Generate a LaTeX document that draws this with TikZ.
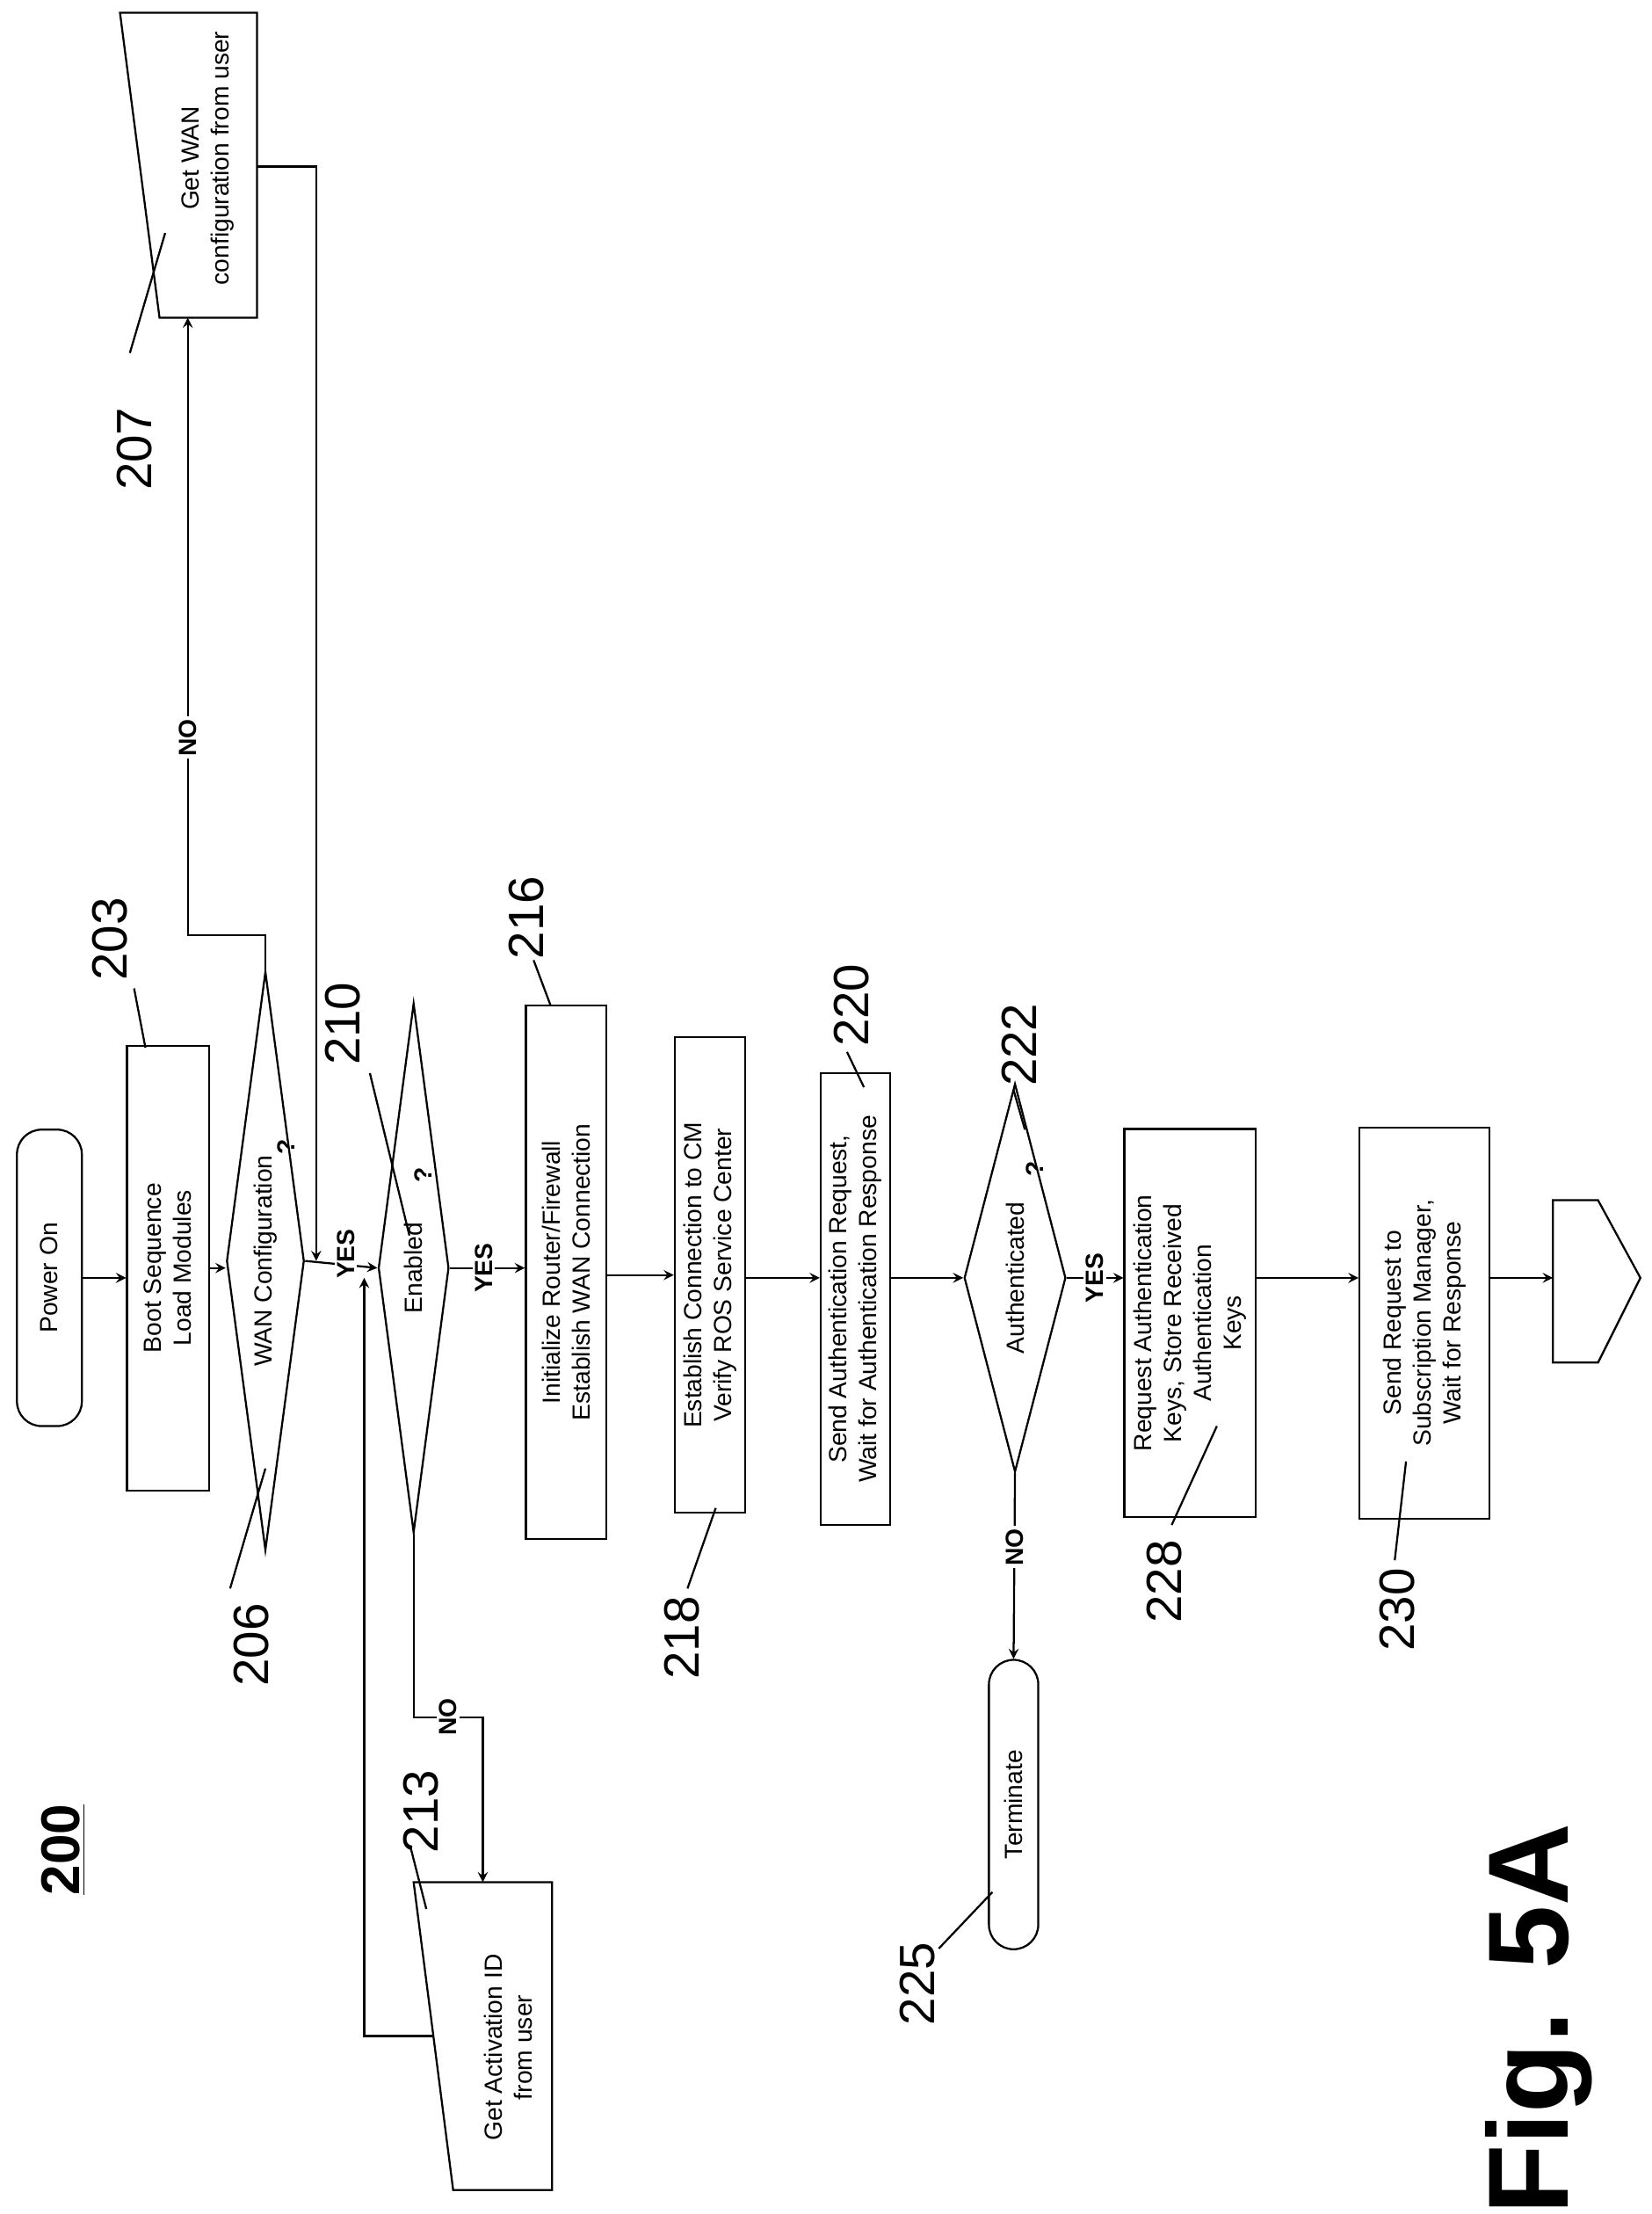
\documentclass[tikz,border=0pt]{standalone}
\usepackage{fontspec}
\setmainfont{Liberation Sans}
\usepackage{tikz}
\usetikzlibrary{shapes.geometric}

\tikzset{
  >=stealth,
  box/.style={draw,thick,rotate=90,align=center,font=\fontsize{10}{12}\selectfont},
  term/.style={box,rounded corners=3.5mm},
  decide/.style={draw,thick,diamond,rotate=90,aspect=8,inner sep=0pt,font=\fontsize{10}{12}\selectfont},
  num/.style={rotate=90,font=\fontsize{20}{22}\selectfont},
  tag/.style={rotate=90,font=\bfseries\fontsize{10}{12}\selectfont,fill=white,inner sep=1pt},
  lead/.style={thick},
  flow/.style={->,thick}
}

\begin{document}
\begin{tikzpicture}[x=0.02cm,y=-0.02cm]
    \useasboundingbox (0,0) rectangle (1170,1568);
    % main column
    \node[term,minimum width=4.2cm,minimum height=0.92cm] (power) at (35,905) {Power On};
    \node[box,minimum width=6.3cm,minimum height=1.16cm] (boot) at (119,898) {Boot Sequence\\Load Modules};
    \node[decide,minimum width=8.2cm,minimum height=1.1cm] (wancfg) at (188,893) {WAN Configuration};
    \node[decide,minimum width=7.5cm,minimum height=1.0cm] (enabled) at (293,898) {Enabled};
    \node[box,minimum width=7.56cm,minimum height=1.14cm] (init) at (401,901) {Initialize Router/Firewall\\Establish WAN Connection};
    \node[box,minimum width=6.74cm,minimum height=1.0cm] (estab) at (503,903) {Establish Connection to CM\\Verify ROS Service Center};
    \node[box,minimum width=6.4cm,minimum height=0.96cm] (sendauth) at (606,920) {Send Authentication Request,\\Wait for Authentication Response};
    \node[decide,minimum width=5.5cm,minimum height=1.44cm] (authd) at (719,905) {Authenticated};
    \node[box,minimum width=5.5cm,minimum height=1.86cm] (reqkeys) at (843,937) {Request Authentication\\Keys, Store Received\\Authentication\\Keys};
    \node[box,minimum width=5.54cm,minimum height=1.84cm] (sendreq) at (1009,937) {Send Request to\\Subscription Manager,\\Wait for Response};
    \node[term,minimum width=4.1cm,minimum height=0.7cm] (terminate) at (718,1278) {Terminate};
    \node[rotate=90,font=\bfseries\fontsize{10}{12}\selectfont] (q1) at (203,812) {?};
    \node[rotate=90,font=\bfseries\fontsize{10}{12}\selectfont] (q2) at (300,832) {?};
    \node[rotate=90,font=\bfseries\fontsize{10}{12}\selectfont] (q3) at (733,828) {?};
    % off-page connector
    \draw[thick] (1100,850) -- (1132,850) -- (1162,905) -- (1132,965) -- (1100,965) -- cycle;
    \coordinate (offpage) at (1100,905);
    % manual input shapes
    \draw[thick] (85,9) -- (182,9) -- (182,225) -- (113,225) -- cycle;
    \node[rotate=90,align=center,font=\fontsize{10}{12}\selectfont] (getwan) at (147,112) {Get WAN\\configuration from user};
    \coordinate (wanin) at (133,225);
    \coordinate (wanout) at (182,118);
    \coordinate (join1) at (224,893);
    \draw[thick] (293,1333) -- (391,1333) -- (391,1551) -- (321,1551) -- cycle;
    \node[rotate=90,align=center,font=\fontsize{10}{12}\selectfont] (getact) at (360,1450) {Get Activation ID\\from user};
    \coordinate (actin) at (342,1333);
    \coordinate (actout) at (307,1442);
    \coordinate (join2) at (258,905);
    % connectors
    \draw[flow] (power) -- (power -| boot.north);
    \draw[flow] (boot) -- (boot -| wancfg.north);
    \draw[flow] (wancfg.south) -- (enabled.north);
    \node[tag] (yes1) at (245,888) {YES};
    \draw[flow] (enabled.south) -- node[tag,pos=0.45]{YES} (enabled -| init.north);
    \draw[flow] (init.south |- estab) -- (estab.north);
    \draw[flow] (estab.south |- 0,905) -- (sendauth.north |- 0,905);
    \draw[flow] (sendauth.south |- 0,905) -- (authd.north);
    \draw[flow] (authd.south) -- node[tag,pos=0.5]{YES} (reqkeys.north |- 0,905);
    \draw[flow] (reqkeys.south |- 0,905) -- (sendreq.north |- 0,905);
    \draw[flow] (sendreq.south |- 0,905) -- (offpage);
    \draw[flow] (wancfg.east) -- ++(0,-25) -| node[tag,pos=0.66]{NO} (wanin);
    \draw[flow] (wanout) -| (join1);
    \draw[flow] (enabled.west) -- ++(0,130) -| node[tag,pos=0.25]{NO} (actin);
    \draw[flow] (actout) -| (join2);
    \draw[flow] (authd.west) -- node[tag,pos=0.4]{NO} (terminate.east);
    % reference numerals
    \node[num] (n203) at (78,665) {203};
    \draw[lead] (95,700) -- (103,742);
    \node[num] (n206) at (178,1165) {206};
    \draw[lead] (163,1125) -- (188,1040);
    \node[num] (n207) at (95,318) {207};
    \draw[lead] (92,250) -- (117,165);
    \node[num] (n210) at (243,725) {210};
    \draw[lead] (262,760) -- (290,875);
    \node[num] (n213) at (298,1283) {213};
    \draw[lead] (291,1309) -- (302,1352);
    \node[num] (n216) at (373,650) {216};
    \draw[lead] (378,680) -- (390,712);
    \node[num] (n218) at (483,1160) {218};
    \draw[lead] (487,1125) -- (507,1068);
    \node[num] (n220) at (603,712) {220};
    \draw[lead] (600,745) -- (612,770);
    \node[num] (n222) at (722,740) {222};
    \draw[lead] (718,772) -- (726,800);
    \node[num] (n225) at (650,1405) {225};
    \draw[lead] (665,1380) -- (703,1340);
    \node[num] (n228) at (825,1120) {228};
    \draw[lead] (830,1080) -- (862,1010);
    \node[num] (n230) at (990,1140) {230};
    \draw[lead] (988,1105) -- (996,1035);
    \node[num,font=\bfseries\fontsize{22}{24}\selectfont] (n200) at (45,1310) {\underline{200}};
    \node[rotate=90,font=\bfseries\fontsize{46}{50}\selectfont] (fig) at (1090,1430) {Fig. 5A};
\end{tikzpicture}
\end{document}
